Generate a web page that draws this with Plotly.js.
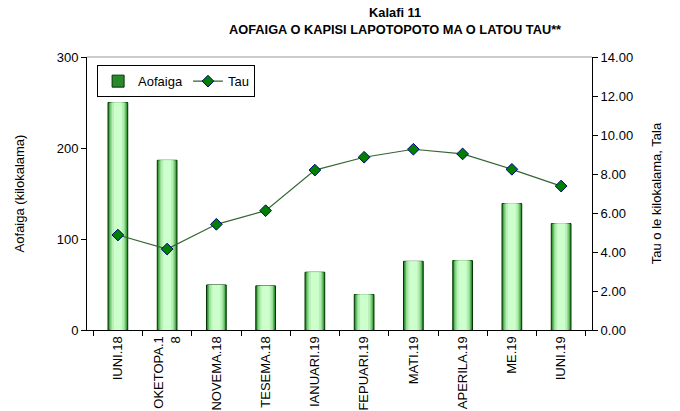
<!DOCTYPE html>
<html>
<head>
<meta charset="utf-8">
<script src="https://cdn.plot.ly/plotly-3.0.1.min.js"></script>
<style>html,body{margin:0;padding:0;background:#fff;}#chart{width:680px;height:411px;}</style>
</head>
<body>
<div id="chart"></div>
<script>
const categories = ["IUNI.18", "OKETOPA.1<br>8", "NOVEMA.18", "TESEMA.18", "IANUARI.19", "FEPUARI.19", "MATI.19", "APERILA.19", "ME.19", "IUNI.19"];
const aofaiga = [250, 186.5, 49.5, 48.5, 63.5, 39, 75.5, 76.3, 139, 117];
const tau = [4.87, 4.15, 5.42, 6.12, 8.2, 8.86, 9.27, 9.03, 8.24, 7.38];

const FONT = "Liberation Sans, Arial, sans-serif";

// layered bars to imitate the cylindrical gradient fill
const layers = [
  {w: 0.40, c: "#2a8a2a", line: "#003300", lw: 1, legend: true},
  {w: 0.35, c: "#5cb85c", line: "rgba(0,0,0,0)", lw: 0},
  {w: 0.30, c: "#94dc94", line: "rgba(0,0,0,0)", lw: 0},
  {w: 0.24, c: "#b8f0b8", line: "rgba(0,0,0,0)", lw: 0},
  {w: 0.16, c: "#ccffcc", line: "rgba(0,0,0,0)", lw: 0}
];
const traces = layers.map((L) => ({
  type: "bar",
  x: categories,
  y: aofaiga,
  name: "Aofaiga",
  width: L.w,
  marker: {color: L.c, line: {color: L.line, width: L.lw}},
  showlegend: !!L.legend,
  hoverinfo: "skip",
  yaxis: "y"
}));
traces.push({
  type: "scatter",
  mode: "lines+markers",
  x: categories,
  y: tau,
  name: "Tau",
  yaxis: "y2",
  line: {color: "#336633", width: 1.2},
  marker: {symbol: "diamond", size: 9, color: "#008000", line: {color: "#000080", width: 1}}
});

const layout = {
  width: 680, height: 411,
  margin: {l: 87, r: 88, t: 57, b: 81},
  paper_bgcolor: "#fff", plot_bgcolor: "#fff",
  font: {family: FONT, size: 13, color: "#000"},
  barmode: "overlay",
  title: {
    text: "<b>Kalafi 11</b><br><b>AOFAIGA O KAPISI LAPOTOPOTO MA O LATOU TAU**</b>",
    font: {family: FONT, size: 12.8, color: "#000"},
    x: 0.581, xref: "container", xanchor: "center",
    y: 0.958, yref: "container", yanchor: "top"
  },
  xaxis: {
    type: "category",
    tickangle: -90,
    ticks: "outside", ticklen: 5, tickcolor: "#000",
    tickson: "boundaries",
    showline: true, linecolor: "#000", linewidth: 1,
    showgrid: false, zeroline: false,
    tickfont: {family: FONT, size: 13, color: "#000"}
  },
  yaxis: {
    range: [0, 300], dtick: 100,
    ticks: "outside", ticklen: 5, tickcolor: "#000",
    showline: true, linecolor: "#000", linewidth: 1,
    showgrid: false, zeroline: false,
    title: {text: "Aofaiga (kilokalama)", font: {family: FONT, size: 13, color: "#000"}, standoff: 29},
    tickfont: {family: FONT, size: 13, color: "#000"}
  },
  yaxis2: {
    overlaying: "y", side: "right",
    range: [0, 14], dtick: 2, tickformat: ".2f",
    ticks: "outside", ticklen: 5, tickcolor: "#000",
    showline: true, linecolor: "#000", linewidth: 1,
    showgrid: false, zeroline: false,
    title: {text: "Tau o le kilokalama, Tala", font: {family: FONT, size: 13, color: "#000"}, standoff: 19},
    tickfont: {family: FONT, size: 13, color: "#000"}
  },
  legend: {
    orientation: "h",
    x: 0.02, xanchor: "left",
    y: 0.97, yanchor: "top",
    bgcolor: "#fff", bordercolor: "#000", borderwidth: 1,
    font: {family: FONT, size: 13, color: "#000"},
    itemwidth: 30,
    tracegroupgap: 0
  },
  shapes: [
    {type: "line", xref: "paper", yref: "paper", x0: 0, x1: 1, y0: 1, y1: 1, line: {color: "#999", width: 1}}
  ]
};

Plotly.newPlot("chart", traces, layout, {displayModeBar: false, staticPlot: true});
</script>
</body>
</html>
